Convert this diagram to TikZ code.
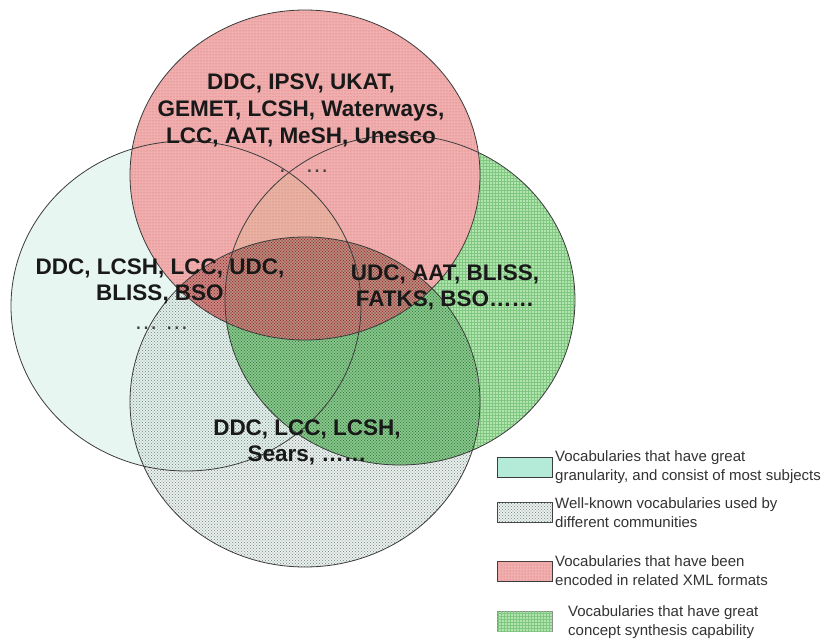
\documentclass[tikz,border=0pt]{standalone}
\usepackage{fontspec}
\setmainfont{Liberation Sans}
\usetikzlibrary{patterns}

% dense offset dots used for the "well-known vocabularies" set
\pgfdeclarepatternformonly{stipple}{\pgfqpoint{-1pt}{-1pt}}{\pgfqpoint{2.5pt}{2.5pt}}{\pgfqpoint{3pt}{3pt}}{%
  \pgfpathcircle{\pgfqpoint{0pt}{0pt}}{.65pt}%
  \pgfpathcircle{\pgfqpoint{1.5pt}{1.5pt}}{.65pt}%
  \pgfusepath{fill}}

\definecolor{cyanfill}{HTML}{E8F6F2}
\definecolor{cyankey}{HTML}{B4EAD8}
\definecolor{stipbase}{HTML}{EEF5F2}
\definecolor{stipdot}{HTML}{84928C}
\definecolor{redbase}{HTML}{F0AEAE}
\definecolor{reddot}{HTML}{D66666}
\definecolor{redtan}{HTML}{E8B2A2}
\definecolor{reddark}{HTML}{D98A86}
\definecolor{reddarkdot}{HTML}{8E3030}
\definecolor{greenbase}{HTML}{B2E4B2}
\definecolor{greenline}{HTML}{80C880}
\definecolor{greendark}{HTML}{8ED08E}
\definecolor{greendarkdot}{HTML}{2F7F3F}
\definecolor{outline}{HTML}{3C3C3C}

\begin{document}
\begin{tikzpicture}[x=1pt,y=-1pt,
  setline/.style={draw=outline, line width=0.8pt},
  setlabel/.style={font=\bfseries\fontsize{22.5}{26}\selectfont, align=center, text=black!90, inner sep=0pt},
  moredots/.style={font=\fontsize{24}{26}\selectfont, text=black!75, inner sep=0pt, anchor=base west},
  legtext/.style={font=\fontsize{15}{19}\selectfont, align=left, anchor=west, text=black!80, inner sep=0pt},
  legbox/.style={draw=outline, line width=0.7pt, minimum width=55pt, minimum height=20pt, inner sep=0pt}]
\useasboundingbox (0,0) rectangle (830,640);
\fill[white] (0,0) rectangle (830,640);

% centres of the four sets
\coordinate (cL) at (186,306);  % granularity
\coordinate (cX) at (305,175);  % XML formats
\coordinate (cG) at (400,300);  % concept synthesis
\coordinate (cS) at (305,402);  % well-known

% base fills
\fill[stipbase] (cS) ellipse [x radius=175pt, y radius=165pt];
\fill[cyanfill] (cL) ellipse [x radius=175pt, y radius=165pt];
\fill[greenbase] (cG) ellipse [x radius=175pt, y radius=165pt];
\fill[pattern=grid, pattern color=greenline] (cG) ellipse [x radius=175pt, y radius=165pt];
\fill[redbase] (cX) ellipse [x radius=175pt, y radius=165pt];
\begin{scope}
  \clip (cL) ellipse [x radius=175pt, y radius=165pt];
  \clip (cG) ellipse [x radius=175pt, y radius=165pt];
  \fill[redtan] (cX) ellipse [x radius=175pt, y radius=165pt];
\end{scope}
\fill[pattern=dots, pattern color=reddot] (cX) ellipse [x radius=175pt, y radius=165pt];

% overlaps with the well-known set are shaded darker
\begin{scope}
  \clip (cS) ellipse [x radius=175pt, y radius=165pt];
  \fill[greendark] (cG) ellipse [x radius=175pt, y radius=165pt];
  \fill[reddark] (cX) ellipse [x radius=175pt, y radius=165pt];
  \fill[pattern=stipple, pattern color=stipdot] (cS) ellipse [x radius=175pt, y radius=165pt];
  \fill[pattern=stipple, pattern color=greendarkdot] (cG) ellipse [x radius=175pt, y radius=165pt];
  \fill[pattern=stipple, pattern color=reddarkdot] (cX) ellipse [x radius=175pt, y radius=165pt];
\end{scope}

% outlines
\draw[setline] (cL) ellipse [x radius=175pt, y radius=165pt];
\draw[setline] (cG) ellipse [x radius=175pt, y radius=165pt];
\draw[setline] (cS) ellipse [x radius=175pt, y radius=165pt];
\draw[setline] (cX) ellipse [x radius=175pt, y radius=165pt];

% set contents
\node[setlabel, font=\bfseries\fontsize{22.5}{27}\selectfont] (tX) at (301,110) {DDC, IPSV, UKAT,\\GEMET, LCSH, Waterways,\\LCC, AAT, MeSH, Unesco};
\node[moredots] (tXm) at (279,172) {.\hspace{0.8em}…};
\node[setlabel] (tL) at (160,281) {DDC, LCSH, LCC, UDC,\\BLISS, BSO};
\node[moredots] (tLm) at (134,329) {… …};
\node[setlabel] (tG) at (445,287) {UDC, AAT, BLISS,\\FATKS, BSO……};
\node[setlabel] (tS) at (307,442) {DDC, LCC, LCSH,\\Sears, ……};

% key
\node[legbox, fill=cyankey] (k1) at (524.5,467) {};
\node[legbox, fill=stipbase, postaction={pattern=stipple, pattern color=stipdot}] (k2) at (524.5,512) {};
\node[legbox, fill=redbase, postaction={pattern=dots, pattern color=reddot}] (k3) at (524.5,571) {};
\node[legbox, draw=outline!60, fill=greenbase, postaction={pattern=grid, pattern color=greenline}] (k4) at (524.5,621) {};

\node[legtext] (l1) at (555,467.5) {Vocabularies that have great\\granularity, and consist of most subjects};
\node[legtext] (l2) at (555,512.5) {Well-known vocabularies used by\\different communities};
\node[legtext] (l3) at (555,571) {Vocabularies that have been\\encoded in related XML formats};
\node[legtext] (l4) at (568,622) {Vocabularies that have great\\concept synthesis capability};
\end{tikzpicture}
\end{document}
